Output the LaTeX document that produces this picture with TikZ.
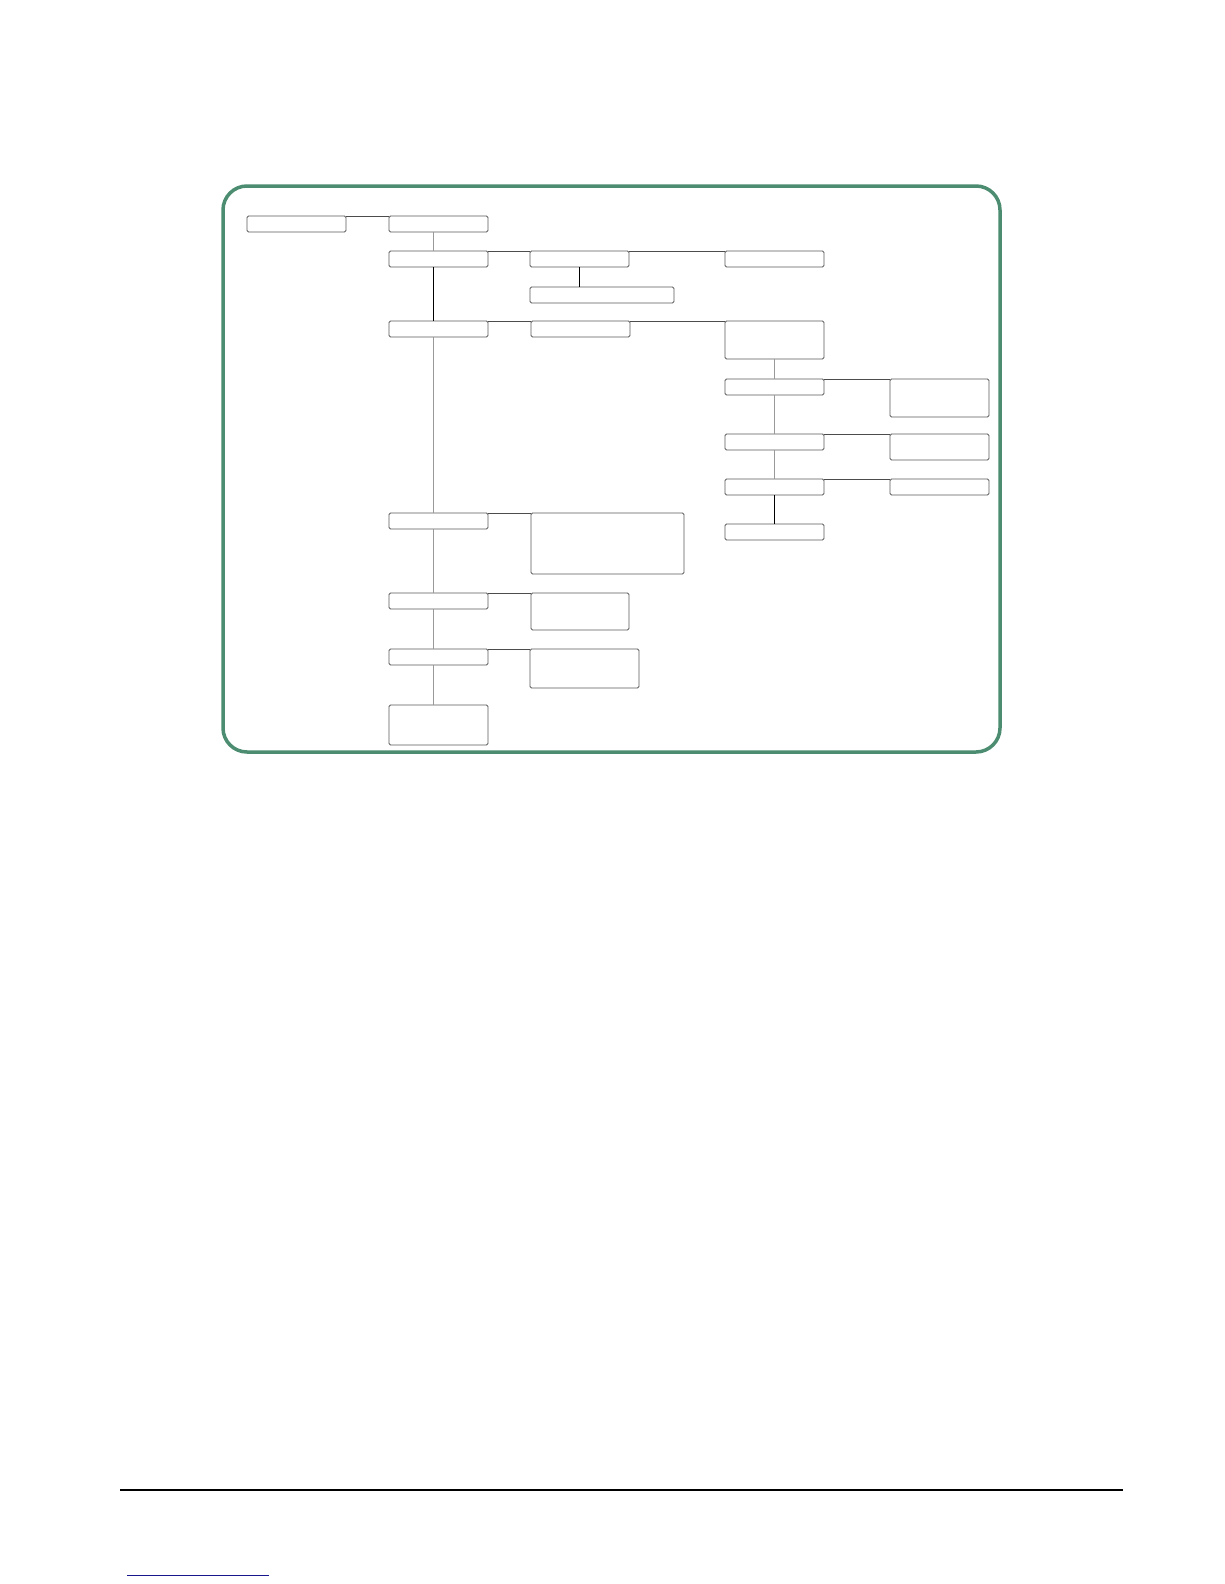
\documentclass[tikz,border=0pt]{standalone}
\definecolor{framegreen}{RGB}{76,140,112}
\definecolor{linkblue}{RGB}{24,24,140}
\tikzset{
  box/.style={draw=black!65, rounded corners=1.5pt, line width=0.8pt,
    anchor=north west, inner sep=0pt, outer sep=0pt, minimum width=99pt, minimum height=16pt},
  link/.style={draw=black!70, line width=0.8pt},
  soft/.style={draw=black!40, line width=0.8pt},
  hard/.style={draw=black, line width=1pt}
}
\begin{document}
\begin{tikzpicture}[x=1pt, y=-1pt]
  \useasboundingbox (0,0) rectangle (1224,1584);
  \draw[framegreen, line width=3.5pt, rounded corners=24pt] (223,186) rectangle (1000,752);
  % boxes
  \node[box] (a) at (247,216) {};
  \node[box] (b) at (389,216) {};
  \node[box] (c) at (389,251) {};
  \node[box] (d) at (530,251) {};
  \node[box] (e) at (725,251) {};
  \node[box, minimum width=144pt] (p) at (530,287) {};
  \node[box] (n) at (389,321) {};
  \node[box] (o) at (531,321) {};
  \node[box, minimum height=38pt] (q) at (725,321) {};
  \node[box] (r) at (725,379) {};
  \node[box, minimum height=38pt] (s) at (890,379) {};
  \node[box] (t) at (725,434) {};
  \node[box, minimum height=26pt] (u) at (890,434) {};
  \node[box] (v) at (725,479) {};
  \node[box] (w) at (890,479) {};
  \node[box] (x) at (725,524) {};
  \node[box] (g) at (389,513) {};
  \node[box, minimum width=153pt, minimum height=61pt] (h) at (531,513) {};
  \node[box] (i) at (389,593) {};
  \node[box, minimum width=98pt, minimum height=37pt] (j) at (531,593) {};
  \node[box] (k) at (389,649) {};
  \node[box, minimum width=109pt, minimum height=39pt] (l) at (530,649) {};
  \node[box, minimum height=40pt] (m) at (389,705) {};
  % connectors
  \coordinate (tr) at (433,0);
  \draw[link] (a.north east) -- (b.north west);
  \draw[soft] (b.south -| tr) -- (c.north -| tr);
  \draw[link] (c.north east) -- (d.north west);
  \draw[link] (d.north east) -- (e.north west);
  \draw[hard] (d.south) -- (d.south |- p.north);
  \draw[hard] (c.south -| tr) -- (n.north -| tr);
  \draw[link] (n.north east) -- (o.north west);
  \draw[link] (o.north east) -- (q.north west);
  \draw[soft] (q.south) -- (r.north);
  \draw[link] (r.north east) -- (s.north west);
  \draw[soft] (r.south) -- (t.north);
  \draw[link] (t.north east) -- (u.north west);
  \draw[soft] (t.south) -- (v.north);
  \draw[link] (v.north east) -- (w.north west);
  \draw[hard] (v.south) -- (x.north);
  \draw[soft] (n.south -| tr) -- (g.north -| tr);
  \draw[link] (g.north east) -- (h.north west);
  \draw[soft] (g.south -| tr) -- (i.north -| tr);
  \draw[link] (i.north east) -- (j.north west);
  \draw[soft] (i.south -| tr) -- (k.north -| tr);
  \draw[link] (k.north east) -- (l.north west);
  \draw[soft] (k.south -| tr) -- (m.north -| tr);
  % page rules
  \draw[line width=1.2pt] (120,1490) -- (1123,1490);
  \draw[linkblue, line width=1pt] (127,1575) -- (269,1575);
\end{tikzpicture}
\end{document}
